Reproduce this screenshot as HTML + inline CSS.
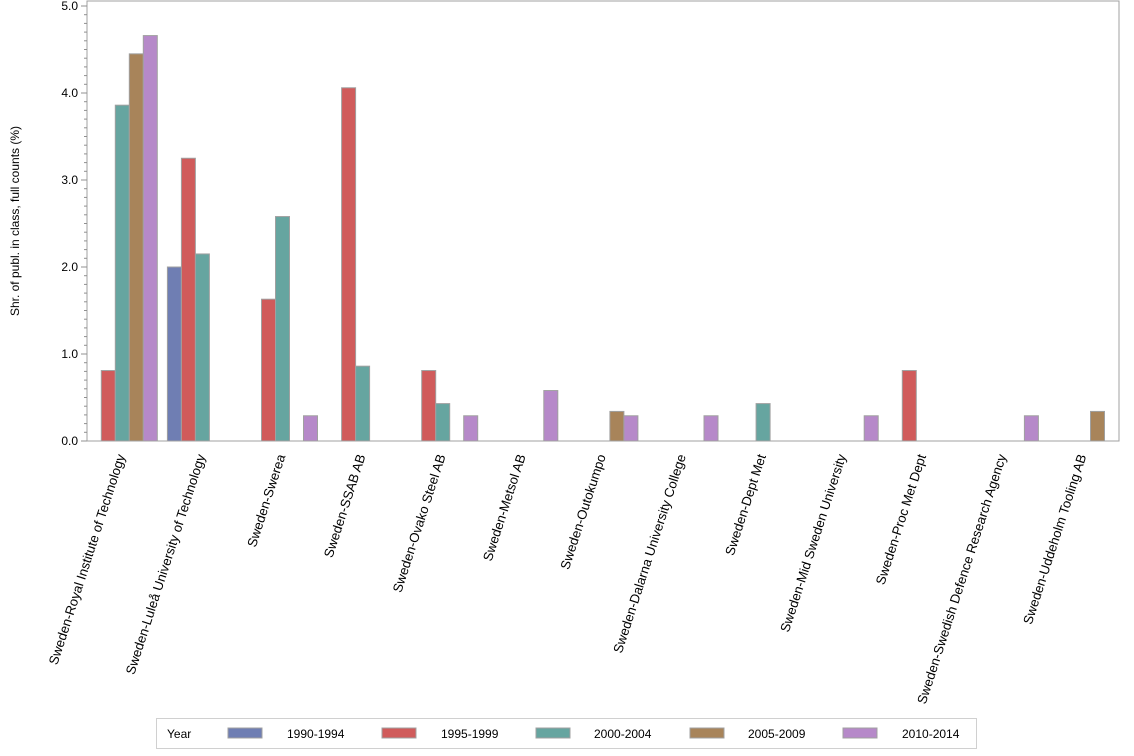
<!DOCTYPE html>
<html><head><meta charset="utf-8"><style>body{margin:0;background:#fff}svg{display:block;font-family:"Liberation Sans",Arial,sans-serif}</style></head><body>
<svg width="1134" height="756" xmlns="http://www.w3.org/2000/svg">
<rect x="87" y="1" width="1032" height="440" fill="none" stroke="#a0a0a0" stroke-width="1"/>
<g id="ticks" stroke="#909090" stroke-width="1"></g>
<g id="bars" stroke="#a0a0a0" stroke-width="1"></g>
<g id="yl" font-size="12" fill="#000" text-anchor="end"></g>
<g id="xl" font-size="13.2" fill="#000" text-anchor="end"></g>
<text transform="translate(19,221) rotate(-90)" font-size="12" text-anchor="middle">Shr. of publ. in class, full counts (%)</text>
<rect x="156.5" y="718.5" width="820" height="30" fill="#fff" stroke="#d0d0d0"/>
<g font-size="12">
<text x="167" y="738">Year</text>
<rect x="228" y="728" width="34" height="10" fill="#6f7eb3" stroke="#a0a0a0"/><text x="287" y="738">1990-1994</text>
<rect x="382" y="728" width="34" height="10" fill="#d05b5b" stroke="#a0a0a0"/><text x="441" y="738">1995-1999</text>
<rect x="536" y="728" width="34" height="10" fill="#66a5a0" stroke="#a0a0a0"/><text x="594" y="738">2000-2004</text>
<rect x="690" y="728" width="34" height="10" fill="#a8845a" stroke="#a0a0a0"/><text x="748" y="738">2005-2009</text>
<rect x="843" y="728" width="34" height="10" fill="#b689c9" stroke="#a0a0a0"/><text x="902" y="738">2010-2014</text>
</g>
<script>
var ns="http://www.w3.org/2000/svg";
function el(p,t,a,txt){var e=document.createElementNS(ns,t);for(var k in a)e.setAttribute(k,a[k]);if(txt)e.textContent=txt;document.getElementById(p).appendChild(e);}
var y0=441,u=87;
for(var i=0;i<=50;i++){var y=y0-i*u/10;var L=(i%10==0)?6:3;el("ticks","line",{x1:87-L,x2:87,y1:y,y2:y});}
for(var i=0;i<=5;i++){el("yl","text",{x:78,y:y0-i*u+4},i.toFixed(1));}
var cols=["#6f7eb3","#d05b5b","#66a5a0","#a8845a","#b689c9"];
var data=[[0,.81,3.86,4.45,4.66],[2.0,3.25,2.15,0,0],[0,1.63,2.58,0,.29],[0,4.06,.86,0,0],[0,.81,.43,0,.29],[0,0,0,0,.58],[0,0,0,.34,.29],[0,0,0,0,.29],[0,0,.43,0,0],[0,0,0,0,.29],[0,.81,0,0,0],[0,0,0,0,.29],[0,0,0,.34,0]];
var names=["Sweden-Royal Institute of Technology","Sweden-Luleå University of Technology","Sweden-Swerea","Sweden-SSAB AB","Sweden-Ovako Steel AB","Sweden-Metsol AB","Sweden-Outokumpo","Sweden-Dalarna University College","Sweden-Dept Met","Sweden-Mid Sweden University","Sweden-Proc Met Dept","Sweden-Swedish Defence Research Agency","Sweden-Uddeholm Tooling AB"];
var s=80.1,x0=87.3;
for(var g=0;g<13;g++){var gx=x0+g*s;
for(var j=0;j<5;j++){var v=data[g][j];if(v>0){var h=v*u;el("bars","rect",{x:gx+j*14,y:y0-h,width:14,height:h,fill:cols[j]});}}
var cx=gx+35+3,cy=456;
el("xl","text",{transform:"translate("+cx+","+cy+") rotate(-72)"},names[g]);}
</script>
</svg>
</body></html>
